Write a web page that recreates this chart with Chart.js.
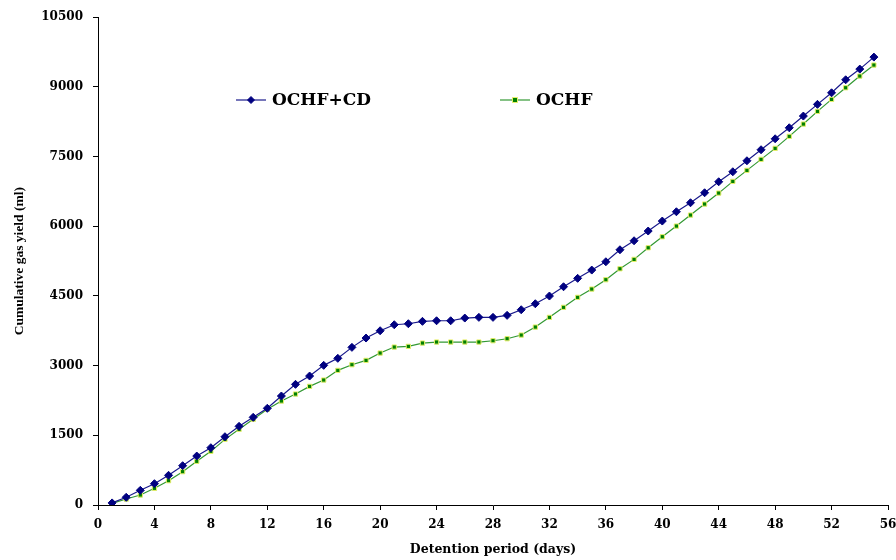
<!DOCTYPE html>
<html>
<head>
<meta charset="utf-8">
<title>Cumulative gas yield</title>
<script src="https://cdn.jsdelivr.net/npm/chart.js@4.4.0/dist/chart.umd.min.js"></script>
<style>
  html, body { margin: 0; padding: 0; background: #fff; }
  #wrap { width: 896px; height: 560px; }
</style>
</head>
<body>
<div id="wrap"><canvas id="gasCanvas" width="896" height="560"></canvas></div>
<script>
// Ngày (detention period)
const days = [1, 2, 3, 4, 5, 6, 7, 8, 9, 10, 11, 12, 13, 14, 15, 16, 17, 18, 19, 20,
  21, 22, 23, 24, 25, 26, 27, 28, 29, 30, 31, 32, 33, 34, 35, 36, 37, 38, 39, 40,
  41, 42, 43, 44, 45, 46, 47, 48, 49, 50, 51, 52, 53, 54, 55];

// Cumulative gas yield (ml), doc tu hinh
const ochfCd = [45, 166, 316, 459, 639, 846, 1054, 1233, 1470, 1693,
  1887, 2081, 2346, 2597, 2776, 3006, 3157, 3393, 3594, 3751,
  3880, 3902, 3953, 3966, 3966, 4024, 4039, 4039, 4082, 4203,
  4332, 4498, 4698, 4879, 5057, 5236, 5494, 5688, 5897, 6112,
  6312, 6506, 6721, 6958, 7173, 7410, 7647, 7883, 8120, 8372,
  8624, 8873, 9153, 9383, 9641];
const ochf = [35, 129, 215, 359, 523, 717, 940, 1155, 1413, 1629,
  1844, 2060, 2238, 2389, 2554, 2690, 2898, 3019, 3113, 3271,
  3400, 3415, 3486, 3508, 3508, 3508, 3508, 3536, 3579, 3658,
  3830, 4039, 4255, 4470, 4648, 4849, 5085, 5287, 5537, 5774,
  6004, 6241, 6478, 6714, 6966, 7203, 7440, 7677, 7935, 8200,
  8473, 8731, 8981, 9233, 9470];

const seriesNames = ['OCHF+CD', 'OCHF'];
const xTickStep = 4;
const xMax = 56;
const yTickStep = 1500;
const yMax = 10500;

// ghep ngay voi gia tri thanh diem {x, y}
var toPoints = (values) => days.map((d, i) => ({ x: d, y: values[i] }));

const tickFont = { family: 'DejaVu Serif', weight: 'bold', size: 12 };

// plugin ve chu thich ben trong vung bieu do
const insideLegend = {
  id: 'insideLegend',
  afterDraw(chart) {
    const ctx = chart.ctx;
    const items = [
      { x: 236, ds: chart.data.datasets[0] },
      { x: 500, ds: chart.data.datasets[1] }
    ];
    const y = 100;
    items.forEach((it) => {
      ctx.save();
      ctx.strokeStyle = it.ds.borderColor;
      ctx.lineWidth = 1.2;
      ctx.beginPath();
      ctx.moveTo(it.x, y);
      ctx.lineTo(it.x + 30, y);
      ctx.stroke();
      ctx.fillStyle = it.ds.pointBackgroundColor;
      ctx.strokeStyle = it.ds.pointBorderColor;
      ctx.lineWidth = it.ds.pointBorderWidth;
      ctx.beginPath();
      if (it.ds.pointStyle === 'rect') {
        const r = 2.5;
        ctx.rect(it.x + 15 - r, y - r, 2 * r, 2 * r);
      } else {
        const r = 3.5;
        ctx.moveTo(it.x + 15, y - r);
        ctx.lineTo(it.x + 15 + r, y);
        ctx.lineTo(it.x + 15, y + r);
        ctx.lineTo(it.x + 15 - r, y);
        ctx.closePath();
      }
      ctx.fill();
      ctx.stroke();
      ctx.fillStyle = '#000';
      ctx.font = 'bold 17px "DejaVu Serif"';
      ctx.textBaseline = 'middle';
      ctx.fillText(it.ds.label, it.x + 36, y + 1);
      ctx.restore();
    });
  }
};

var drawGasChart = () => {
  const canvas = document.getElementById('gasCanvas');
  return new Chart(canvas, {
    type: 'line',
    data: {
      datasets: [{
        label: seriesNames[0],
        data: toPoints(ochfCd),
        borderColor: '#1a1a8c',
        borderWidth: 1.2,
        pointStyle: 'rectRot',
        pointRadius: 4,
        pointBackgroundColor: '#000080',
        pointBorderColor: '#000080',
        pointBorderWidth: 1,
        tension: 0
      }, {
        label: seriesNames[1],
        data: toPoints(ochf),
        borderColor: '#339933',
        borderWidth: 1.2,
        pointStyle: 'rect',
        pointRadius: 3,
        pointBackgroundColor: '#008000',
        pointBorderColor: '#e6ee6a',
        pointBorderWidth: 1,
        tension: 0
      }]
    },
    options: {
      responsive: false,
      animation: false,
      layout: { padding: { left: 0, right: 8, top: 16, bottom: 0 } },
      plugins: {
        legend: { display: false },
        tooltip: { enabled: false }
      },
      scales: {
        x: {
          type: 'linear',
          min: 0,
          max: xMax,
          afterFit: (scale) => {
            scale.height = 55;
            // khong cho chart.js thu hep vung ve vi nhan "56"
            scale.paddingLeft = 0;
            scale.paddingRight = 0;
          },
          ticks: {
            stepSize: xTickStep,
            color: '#000',
            font: tickFont,
            padding: 8,
            maxRotation: 0
          },
          grid: { drawOnChartArea: false, drawTicks: true, tickLength: 5, color: '#000' },
          border: { display: true, color: '#000', width: 1 },
          title: {
            display: true,
            text: 'Detention period (days)',
            color: '#000',
            font: { family: 'DejaVu Serif', weight: 'bold', size: 12.5 },
            padding: { top: 0, bottom: 3 }
          }
        },
        y: {
          min: 0,
          max: yMax,
          afterFit: (scale) => { scale.width = 98; },
          ticks: {
            stepSize: yTickStep,
            color: '#000',
            font: tickFont,
            padding: 10,
            callback: (v) => String(v)
          },
          grid: { drawOnChartArea: false, drawTicks: true, tickLength: 5, color: '#000' },
          border: { display: true, color: '#000', width: 1 },
          title: {
            display: true,
            text: 'Cumulative gas yield (ml)',
            color: '#000',
            font: { family: 'Liberation Serif', weight: 'bold', size: 13.5 },
            padding: { top: 11, bottom: 0 }
          }
        }
      }
    },
    plugins: [insideLegend]
  });
};

drawGasChart();
</script>
</body>
</html>
